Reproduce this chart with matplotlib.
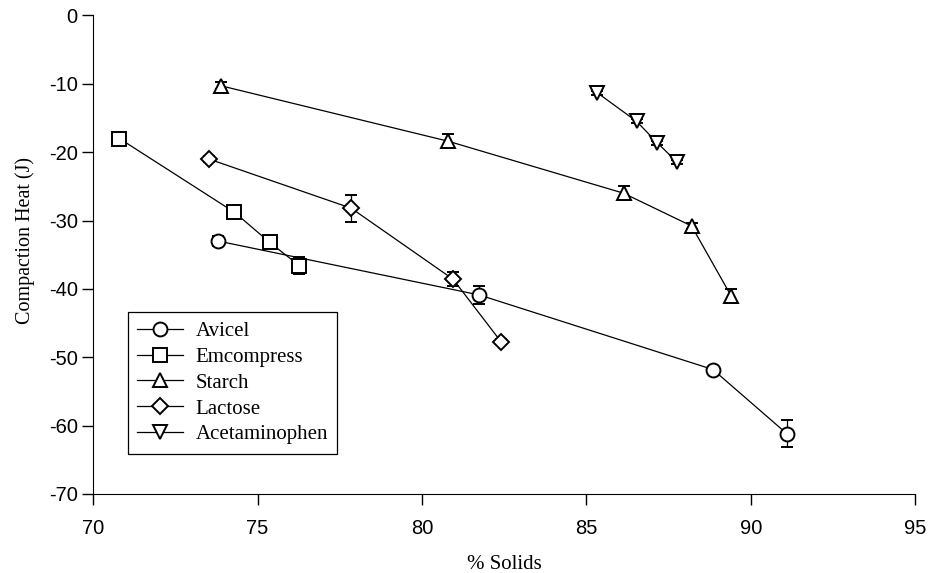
import numpy as np
import matplotlib.pyplot as plt

plt.rcParams['axes.unicode_minus'] = False

# data
avicel_x = [73.8, 81.75, 88.85, 91.1]
avicel_y = [-33.0, -40.9, -51.8, -61.2]
avicel_e = [0.8, 1.3, 0.3, 2.0]

emc_x = [70.8, 74.3, 75.37, 76.27]
emc_y = [-18.0, -28.8, -33.2, -36.6]
emc_e = [0.3, 0.5, 0.4, 1.2]

starch_x = [73.9, 80.8, 86.13, 88.2, 89.4]
starch_y = [-10.3, -18.4, -26.0, -30.8, -41.0]
starch_e = [0.5, 1.0, 1.0, 0.4, 1.0]

lact_x = [73.52, 77.85, 80.95, 82.4]
lact_y = [-21.0, -28.2, -38.6, -47.7]
lact_e = [0.5, 2.0, 1.0, 0.3]

acet_x = [85.33, 86.53, 87.15, 87.75]
acet_y = [-11.3, -15.5, -18.6, -21.4]
acet_e = [0.3, 0.3, 0.3, 0.3]

names = ['Avicel', 'Emcompress', 'Starch', 'Lactose', 'Acetaminophen']
markers = ['o', 's', '^', 'D', 'v']
sizes = [10, 9.5, 10, 8.5, 10]

fig = plt.figure(figsize=(9.31, 5.73), dpi=100)
ax = fig.add_axes([0.1, 0.138, 0.883, 0.835])

series = [(avicel_x, avicel_y, avicel_e), (emc_x, emc_y, emc_e),
          (starch_x, starch_y, starch_e), (lact_x, lact_y, lact_e),
          (acet_x, acet_y, acet_e)]
for (x, y, e), name, m, ms in zip(series, names, markers, sizes):
    ax.errorbar(x, y, yerr=e, color='k', lw=0.9, elinewidth=0.9, capsize=4,
                marker=m, ms=ms, mfc='white', mec='k', mew=1.4, label=name)

ax.set_xlim(70, 95)
ax.set_ylim(-70, 0)
ax.set_xticks([70, 75, 80, 85, 90, 95])
ax.set_yticks(np.arange(-70, 1, 10))
ax.spines['top'].set_visible(False)
ax.spines['right'].set_visible(False)
ax.tick_params(direction='out', length=8, width=1)
for lab in ax.get_xticklabels() + ax.get_yticklabels():
    lab.set_fontfamily('Liberation Sans')
    lab.set_fontsize(14.5)
ax.tick_params(axis='x', pad=10)
ax.tick_params(axis='y', pad=3)

ax.set_xlabel('% Solids', family='Liberation Serif', fontsize=15, labelpad=12)
ax.set_ylabel('Compaction Heat (J)', family='Liberation Serif', fontsize=14.5)
ax.yaxis.set_label_coords(-0.071, 0.53)

handles, labels = ax.get_legend_handles_labels()
handles = [h[0] for h in handles]
leg = ax.legend(handles, labels, loc='upper left', bbox_to_anchor=(0.042, 0.38),
                borderaxespad=0, fancybox=False, edgecolor='k', framealpha=1,
                prop={'family': 'Liberation Serif', 'size': 15},
                handlelength=2.2, labelspacing=0.3, handletextpad=0.6,
                borderpad=0.45)
leg.get_frame().set_linewidth(0.9)

plt.savefig('out.png', dpi=100)
